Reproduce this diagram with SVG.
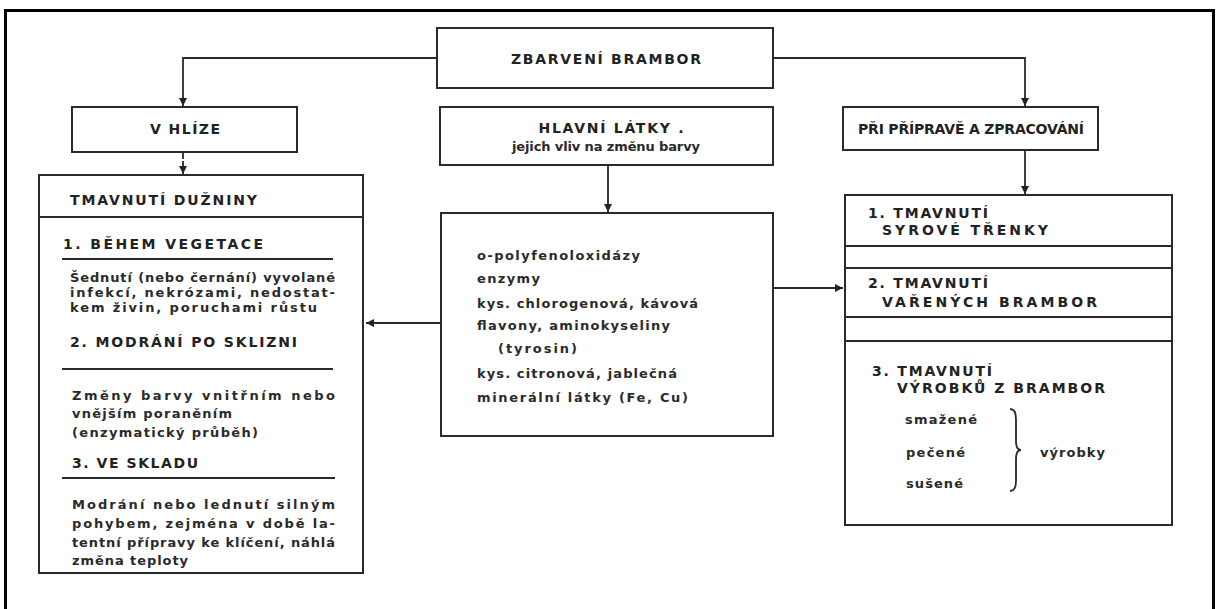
<svg xmlns="http://www.w3.org/2000/svg" width="1219" height="609" viewBox="0 0 1219 609">
<defs>
<marker id="ah" viewBox="0 0 10 10" refX="10" refY="5" markerWidth="8" markerHeight="8" markerUnits="userSpaceOnUse" orient="auto">
<path d="M0,0 L10,5 L0,10 z" fill="#222"/>
</marker>
<style>
.box{fill:#fff;stroke:#2a2a2a;stroke-width:2}
.ln{fill:none;stroke:#2a2a2a;stroke-width:2}
.cn{fill:none;stroke:#2a2a2a;stroke-width:1.8}
.h{font-family:"DejaVu Sans","Liberation Sans",sans-serif;font-weight:bold;font-size:14px;fill:#222}
.t{font-family:"DejaVu Sans","Liberation Sans",sans-serif;font-weight:bold;font-size:13px;fill:#2a2a2a}
.c{text-anchor:middle}
</style>
</defs>
<rect x="0" y="0" width="1219" height="609" fill="#fff"/>
<rect x="5.5" y="10.5" width="1208" height="640" fill="none" stroke="#000" stroke-width="3"/>

<g id="connectors">
<path class="cn" d="M437,58 H183 V106" marker-end="url(#ah)"/>
<path class="cn" d="M773,58 H1025 V106" marker-end="url(#ah)"/>
<path class="cn" d="M183,152 V174" stroke-dasharray="7 2" marker-end="url(#ah)"/>
<path class="cn" d="M608,165 V212" marker-end="url(#ah)"/>
<path class="cn" d="M1025,150 V194" marker-end="url(#ah)"/>
<path class="cn" d="M440,323 H366" marker-end="url(#ah)"/>
<path class="cn" d="M773,288 H843" marker-end="url(#ah)"/>
</g>

<g id="zbarveni">
<rect class="box" x="437" y="28" width="336" height="60"/>
<text class="h c" x="606" y="64" textLength="190" lengthAdjust="spacing">ZBARVENÍ BRAMBOR</text>
</g>

<g id="v-hlize">
<rect class="box" x="72" y="107" width="225" height="45"/>
<text class="h c" x="185" y="134" textLength="70" lengthAdjust="spacing">V HLÍZE</text>
</g>

<g id="hlavni">
<rect class="box" x="440" y="107" width="333" height="58"/>
<text class="h c" x="611" y="133" textLength="145" lengthAdjust="spacing">HLAVNÍ LÁTKY .</text>
<text class="t c" x="606" y="151" textLength="188" lengthAdjust="spacing">jejich vliv na změnu barvy</text>
</g>

<g id="pri-priprave">
<rect class="box" x="843" y="107" width="255" height="43"/>
<text class="h c" x="971" y="134" font-size="13" textLength="226" lengthAdjust="spacing">PŘI PŘÍPRAVĚ A ZPRACOVÁNÍ</text>
</g>

<g id="tmavnuti-duzniny">
<rect class="box" x="39" y="175" width="324" height="398"/>
<line class="ln" x1="39" y1="217" x2="363" y2="217"/>
<text class="h" x="70" y="205" textLength="187" lengthAdjust="spacing">TMAVNUTÍ DUŽNINY</text>
<text class="h" x="63" y="249" textLength="200" lengthAdjust="spacing">1. BĚHEM VEGETACE</text>
<line class="ln" x1="62" y1="259" x2="333" y2="259"/>
<text class="t" x="70" y="282" textLength="265" lengthAdjust="spacing">Šednutí (nebo černání) vyvolané</text>
<text class="t" x="70" y="297" textLength="265" lengthAdjust="spacing">infekcí, nekrózami, nedostat-</text>
<text class="t" x="70" y="312" textLength="247" lengthAdjust="spacing">kem živin, poruchami růstu</text>
<text class="h" x="70" y="347" textLength="227" lengthAdjust="spacing">2. MODRÁNÍ PO SKLIZNI</text>
<line class="ln" x1="62" y1="369" x2="333" y2="369"/>
<text class="t" x="72" y="400" textLength="263" lengthAdjust="spacing">Změny barvy vnitřním nebo</text>
<text class="t" x="72" y="418" textLength="160" lengthAdjust="spacing">vnějším poraněním</text>
<text class="t" x="72" y="437" textLength="186" lengthAdjust="spacing">(enzymatický průběh)</text>
<text class="h" x="72" y="468" textLength="126" lengthAdjust="spacing">3. VE SKLADU</text>
<line class="ln" x1="62" y1="478" x2="335" y2="478"/>
<text class="t" x="72" y="509" textLength="263" lengthAdjust="spacing">Modrání nebo lednutí silným</text>
<text class="t" x="72" y="528" textLength="263" lengthAdjust="spacing">pohybem, zejména v době la-</text>
<text class="t" x="72" y="547" textLength="263" lengthAdjust="spacing">tentní přípravy ke klíčení, náhlá</text>
<text class="t" x="72" y="565" textLength="116" lengthAdjust="spacing">změna teploty</text>
</g>

<g id="hlavni-latky-obsah">
<rect class="box" x="441" y="213" width="332" height="223"/>
<text class="t" x="477" y="260" textLength="163" lengthAdjust="spacing">o-polyfenoloxidázy</text>
<text class="t" x="477" y="283" textLength="63" lengthAdjust="spacing">enzymy</text>
<text class="t" x="477" y="308" textLength="221" lengthAdjust="spacing">kys. chlorogenová, kávová</text>
<text class="t" x="477" y="330" textLength="193" lengthAdjust="spacing">flavony, aminokyseliny</text>
<text class="t" x="498" y="353" textLength="79" lengthAdjust="spacing">(tyrosin)</text>
<text class="t" x="477" y="378" textLength="200" lengthAdjust="spacing">kys. citronová, jablečná</text>
<text class="t" x="477" y="402" textLength="211" lengthAdjust="spacing">minerální látky (Fe, Cu)</text>
</g>

<g id="tmavnuti-zpracovani">
<rect class="box" x="845" y="195" width="327" height="330"/>
<line class="ln" x1="845" y1="246" x2="1172" y2="246"/>
<line class="ln" x1="845" y1="268" x2="1172" y2="268"/>
<line class="ln" x1="845" y1="317" x2="1172" y2="317"/>
<line class="ln" x1="845" y1="341" x2="1172" y2="341"/>
<text class="h" x="868" y="218" textLength="120" lengthAdjust="spacing">1. TMAVNUTÍ</text>
<text class="h" x="882" y="235" textLength="166" lengthAdjust="spacing">SYROVÉ TŘENKY</text>
<text class="h" x="868" y="288" textLength="120" lengthAdjust="spacing">2. TMAVNUTÍ</text>
<text class="h" x="882" y="307" textLength="215" lengthAdjust="spacing">VAŘENÝCH BRAMBOR</text>
<text class="h" x="872" y="376" textLength="120" lengthAdjust="spacing">3. TMAVNUTÍ</text>
<text class="h" x="897" y="393" textLength="208" lengthAdjust="spacing">VÝROBKŮ Z BRAMBOR</text>
<text class="t" x="905" y="424" textLength="72" lengthAdjust="spacing">smažené</text>
<text class="t" x="906" y="457" textLength="59" lengthAdjust="spacing">pečené</text>
<text class="t" x="906" y="488" textLength="57" lengthAdjust="spacing">sušené</text>
<path class="cn" d="M1010,409 Q1016,409 1016,419 L1016,441 Q1016,450 1021,450 Q1016,450 1016,459 L1016,481 Q1016,491 1010,491"/>
<text class="t" x="1040" y="457" textLength="65" lengthAdjust="spacing">výrobky</text>
</g>
</svg>
